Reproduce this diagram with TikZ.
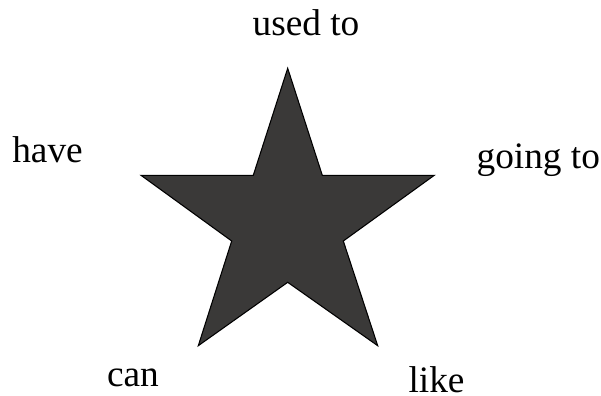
\documentclass[tikz,border=0pt]{standalone}
\usepackage{fontspec}
\setmainfont{Liberation Serif}
\usetikzlibrary{positioning}
\definecolor{starfill}{RGB}{58,57,56}
\tikzset{
  verb/.style={inner sep=0pt, anchor=base, font=\fontsize{28}{31}\selectfont},
  starpath/.style={draw=black, line width=0.8pt, line join=miter, fill=starfill}
}
\begin{document}
\begin{tikzpicture}[x=0.75pt, y=-0.75pt]
        \useasboundingbox (0,0) rectangle (601,396);
        % the star
        \draw[starpath] (287.7,68.3) -- (322.3,175.3) -- (434.3,175.3)
          -- (343.3,241) -- (377.7,345.7) -- (287.7,282.3)
          -- (198.3,345.7) -- (231.7,241) -- (141,175.3)
          -- (253.3,175.3) -- cycle;
        % labels round the star
        \node[verb] (usedto) at (306,36) {used to};
        \node[verb] (have) at (47.5,162.3) {have};
        \node[verb] (goingto) at (538.3,168) {going to};
        \node[verb] (can) at (133,386.7) {can};
        \node[verb] (like) at (436.5,392) {like};
      \end{tikzpicture}
\end{document}
